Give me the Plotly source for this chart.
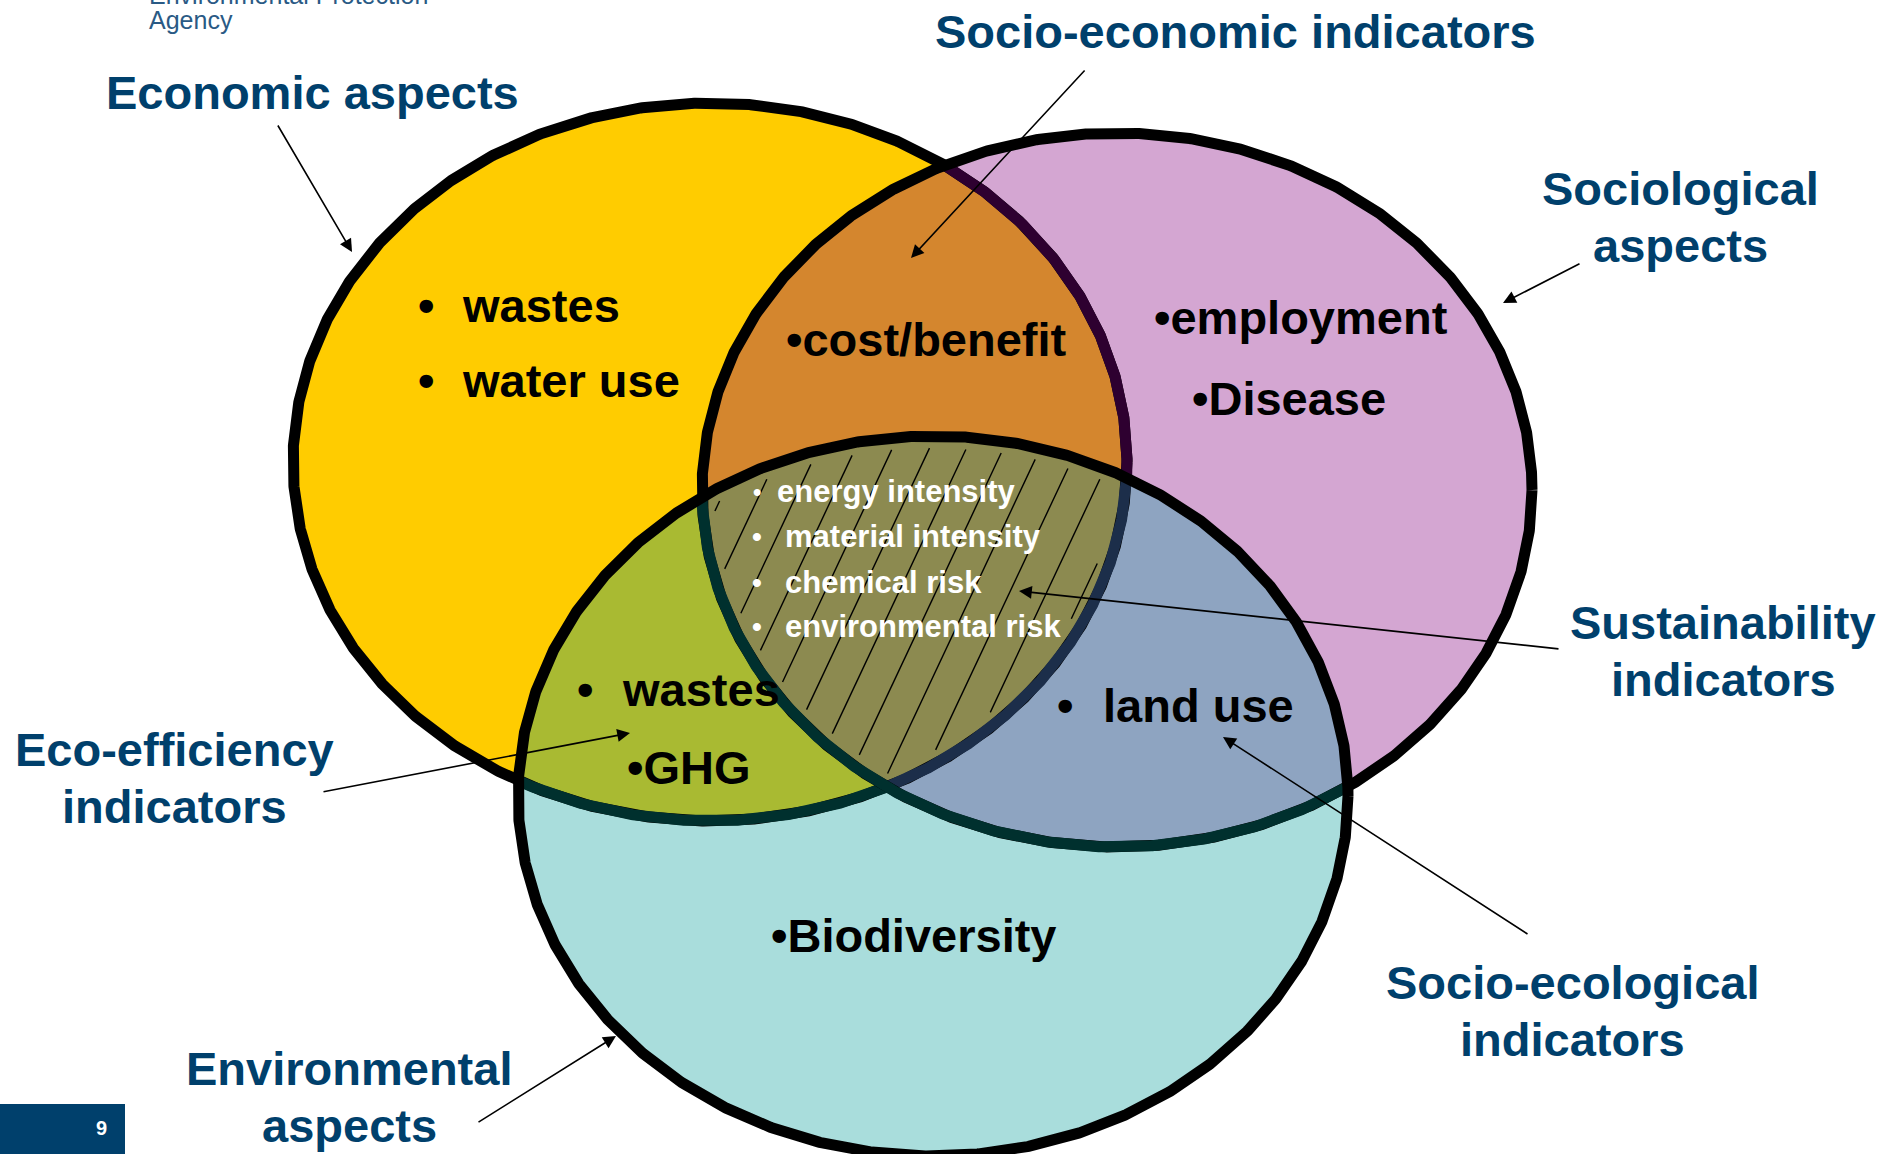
import numpy as np
import plotly.graph_objects as go

W, H = 1885, 1154

# ---------------- data (texts of the diagram) ----------------
org_lines = ["Environmental Protection", "Agency"]
page_number = "9"
economic_label = ["Economic aspects"]
sociological_label = ["Sociological", "aspects"]
environmental_label = ["Environmental", "aspects"]
socio_economic_label = ["Socio-economic indicators"]
sustainability_label = ["Sustainability", "indicators"]
eco_efficiency_label = ["Eco-efficiency", "indicators"]
socio_ecological_label = ["Socio-ecological", "indicators"]

economic_items = ["wastes", "water use"]
socio_economic_items = ["•cost/benefit"]
sociological_items = ["•employment", "•Disease"]
sustainability_items = ["energy intensity", "material intensity", "chemical risk", "environmental risk"]
eco_efficiency_items = ["wastes", "•GHG"]
socio_ecological_items = ["land use"]
environmental_items = ["•Biodiversity"]

# ---------------- geometry / styles ----------------
ELL = {"Y": (710, 462, 417, 359), "P": (1117, 490, 415, 357), "C": (933, 796, 415, 360)}
FILL = {"Y": "#FFCC00", "P": "#D4A6D2", "C": "#A9DDDC",
        "YP": "#D4862E", "YC": "#A9BA32", "PC": "#8EA4C1", "YPC": "#8C8A50"}
NAVY = "#00406C"
FONT = "Liberation Sans, Arial, sans-serif"
LW = 11


def pts(name, n=2000, shrink=0.0):
    cx, cy, rx, ry = ELL[name]
    t = np.linspace(0, 2 * np.pi, n, endpoint=False)
    return cx + (rx - shrink) * np.cos(t), cy + (ry - shrink) * np.sin(t)


def inside(name, x, y, shrink=0.0):
    cx, cy, rx, ry = ELL[name]
    return ((x - cx) / (rx - shrink)) ** 2 + ((y - cy) / (ry - shrink)) ** 2 <= 1.0 + 1e-9


def region(names):
    xs, ys = [], []
    for nm in names:
        x, y = pts(nm)
        m = np.ones_like(x, dtype=bool)
        for o in names:
            if o != nm:
                m &= inside(o, x, y)
        xs.append(x[m]); ys.append(y[m])
    x = np.concatenate(xs); y = np.concatenate(ys)
    mx, my = x.mean(), y.mean()
    order = np.argsort(np.arctan2(y - my, x - mx))
    x, y = x[order], y[order]
    return np.append(x, x[0]), np.append(y, y[0])


def runs(x, y, mask):
    if mask.all():
        return list(np.append(x, x[0])), list(np.append(y, y[0]))
    start = int(np.argmin(mask))
    idx = np.roll(np.arange(len(x)), -start)
    ox, oy = [], []
    cur = False
    for i in idx:
        if mask[i]:
            ox.append(x[i]); oy.append(y[i]); cur = True
        elif cur:
            ox.append(None); oy.append(None); cur = False
    return ox, oy


fig = go.Figure()

# fills
for nm in ["Y", "P", "C"]:
    x, y = pts(nm)
    fig.add_trace(go.Scatter(x=np.append(x, x[0]), y=np.append(y, y[0]), mode="lines",
                             fill="toself", fillcolor=FILL[nm], line=dict(width=0),
                             hoverinfo="skip", showlegend=False))
for combo in [("Y", "P"), ("Y", "C"), ("P", "C"), ("Y", "P", "C")]:
    x, y = region(combo)
    fig.add_trace(go.Scatter(x=x, y=y, mode="lines", fill="toself",
                             fillcolor=FILL["".join(combo)], line=dict(width=0),
                             hoverinfo="skip", showlegend=False))

# hatching in the centre region
hx, hy = [], []
d = np.array([0.47, -1.0]); d /= np.linalg.norm(d)
tt = np.arange(-500, 500, 0.5)
for k in range(-20, 20):
    px = 743 + 37 * k + tt * d[0]
    py = 530 + tt * d[1]
    m = inside("Y", px, py, 12) & inside("P", px, py, 12) & inside("C", px, py, 12)
    if m.sum() > 4:
        sel = np.where(m)[0]
        hx += [px[sel[0]], px[sel[-1]], None]
        hy += [py[sel[0]], py[sel[-1]], None]
fig.add_trace(go.Scatter(x=hx, y=hy, mode="lines", line=dict(color="black", width=1.4),
                         hoverinfo="skip", showlegend=False))


def outline(x, y, color):
    fig.add_trace(go.Scatter(x=x, y=y, mode="lines", line=dict(color=color, width=LW),
                             hoverinfo="skip", showlegend=False, connectgaps=False))


x, y = pts("Y")
outline(np.append(x, x[0]), np.append(y, y[0]), "black")
inP, inC = inside("P", x, y), inside("C", x, y)
for mask, col in [(inP & ~inC, "#2E0030"), (inC & ~inP, "#00302E"), (inP & inC, "#1C2E4A")]:
    ox, oy = runs(x, y, mask)
    outline(ox, oy, col)

x, y = pts("P")
outline(np.append(x, x[0]), np.append(y, y[0]), "black")
ox, oy = runs(x, y, inside("C", x, y))
outline(ox, oy, "#00302E")

x, y = pts("C")
outline(np.append(x, x[0]), np.append(y, y[0]), "black")

ann = []


def txt(s, x, y, size, color, anchor="center", bold=True):
    ann.append(dict(text=("<b>%s</b>" % s) if bold else s, x=x / W, y=1 - y / H,
                    xref="paper", yref="paper",
                    showarrow=False, xanchor=anchor, yanchor="middle",
                    font=dict(family=FONT, size=size, color=color)))


def arrow(tail, head):
    ann.append(dict(text="", x=head[0], y=head[1], ax=tail[0], ay=tail[1],
                    xref="x", yref="y", axref="x", ayref="y", showarrow=True,
                    arrowhead=2, arrowsize=1.6, arrowwidth=1.6, arrowcolor="black", standoff=0))


# organisation text (top-left, partly cut as in the original slide)
txt(org_lines[0], 147, -5, 25, "#2A5A85", "left", bold=False)
txt(org_lines[1], 147, 20, 25, "#2A5A85", "left", bold=False)

# outer labels
txt(economic_label[0], 312, 93, 47, NAVY)
txt(socio_economic_label[0], 1235, 32, 47, NAVY)
for i, s in enumerate(sociological_label):
    txt(s, 1680, 189 + 57 * i, 47, NAVY)
for i, s in enumerate(sustainability_label):
    txt(s, 1723, 622 + 57 * i, 47, NAVY)
for i, s in enumerate(socio_ecological_label):
    txt(s, 1572, 982 + 57 * i, 47, NAVY)
for i, s in enumerate(eco_efficiency_label):
    txt(s, 174, 749 + 57 * i, 47, NAVY)
for i, s in enumerate(environmental_label):
    txt(s, 349, 1068 + 57 * i, 47, NAVY)

# arrows
arrow((277, 124), (352, 252))
arrow((1086, 69), (911, 258))
arrow((1581, 263), (1503, 303))
arrow((1560, 649), (1019, 591))
arrow((1529, 935), (1223, 737))
arrow((322, 792), (630, 733))
arrow((477, 1123), (616, 1036))

# items inside circles
for i, s in enumerate(economic_items):
    yy = 305 + 75 * i
    txt("•", 426, yy, 47, "black")
    txt(s, 460, yy, 47, "black", "left")
txt(socio_economic_items[0], 784, 340, 47, "black", "left")
txt(sociological_items[0], 1152, 317, 47, "black", "left")
txt(sociological_items[1], 1190, 399, 47, "black", "left")
for i, s in enumerate(sustainability_items):
    yy = [492, 536, 582, 626][i]
    txt("•", 757, yy, 24 if i == 0 else 28, "white")
    txt(s, 775 if i == 0 else 783, yy, 31, "white", "left")
txt("•", 585, 689, 47, "black")
txt(eco_efficiency_items[0], 620, 689, 47, "black", "left")
txt(eco_efficiency_items[1], 625, 767, 47, "black", "left")
txt("•", 1065, 706, 47, "black")
txt(socio_ecological_items[0], 1101, 706, 47, "black", "left")
txt(environmental_items[0], 769, 935, 47, "black", "left")

# page-number box
fig.add_shape(type="rect", x0=0, x1=125, y0=1104, y1=1154, xref="x", yref="y",
              fillcolor="#00406C", line=dict(width=0), layer="above")
txt(page_number, 101, 1128, 20, "white")

fig.update_layout(width=W, height=H, margin=dict(l=0, r=0, t=0, b=0),
                  paper_bgcolor="white", plot_bgcolor="white", annotations=ann,
                  xaxis=dict(range=[0, W], visible=False, fixedrange=True),
                  yaxis=dict(range=[H, 0], visible=False, fixedrange=True))
fig.write_html("out.html", config={"displayModeBar": False},
               post_script="document.body.style.margin='0';document.body.style.overflow='hidden';")
